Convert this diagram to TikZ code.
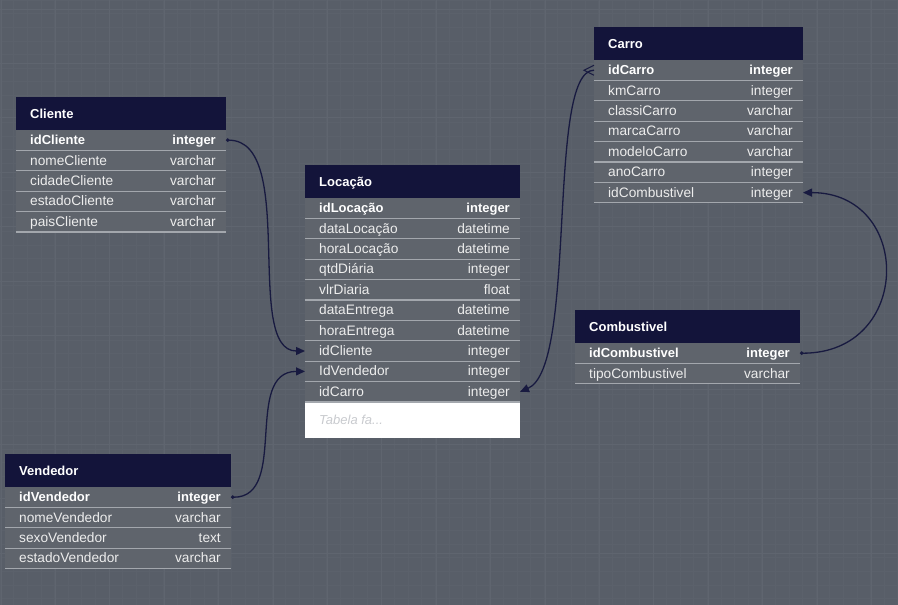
\documentclass[tikz,border=0pt]{standalone}
\usepackage{fontspec}
\setmainfont{Liberation Sans}
\usetikzlibrary{arrows.meta}
\pgfdeclarelayer{fg}
\pgfsetlayers{main,fg}
\definecolor{bgc}{HTML}{585E68}
\definecolor{gridmin}{HTML}{5B616B}
\definecolor{gridmaj}{HTML}{5F656F}
\definecolor{rowfill}{HTML}{5F646C}
\definecolor{rowline}{HTML}{A3A7AD}
\definecolor{headfill}{HTML}{13143A}
\definecolor{rowtext}{HTML}{EDEDED}
\definecolor{linkc}{HTML}{181A40}
\definecolor{hint}{HTML}{C9CBCF}
\tikzset{
 headbox/.style={fill=headfill, draw=none, minimum height=33pt, anchor=north west, inner sep=0pt, outer sep=0pt},
 rowbox/.style={fill=rowfill, draw=none, minimum height=20.4pt, anchor=north west, inner sep=0pt, outer sep=0pt},
 headtext/.style={anchor=west, text=white, font=\fontsize{13}{15}\selectfont\bfseries, inner sep=0pt, text height=11pt, text depth=2pt},
 fieldl/.style={anchor=west, text=rowtext, font=\fontsize{13.7}{16}\selectfont, inner sep=0pt, text height=11pt, text depth=2pt},
 fieldr/.style={anchor=east, text=rowtext, font=\fontsize{13.7}{16}\selectfont, inner sep=0pt, text height=11pt, text depth=2pt},
 keyl/.style={fieldl, text=white, font=\fontsize{13}{15}\selectfont\bfseries},
 keyr/.style={fieldr, text=white, font=\fontsize{13}{15}\selectfont\bfseries},
 sepline/.style={draw=rowline, line width=1.3pt},
 fklink/.style={draw=linkc, line width=1.3pt},
}
\newcommand\ertitle[5]{%
 \node[headbox, minimum width=#4] (#1) at (#2,#3) {};
 \node[headtext] (#1-t) at ([xshift=14pt]#1.west) {#5};}
\newcommand\errow[7]{%
 \node[rowbox, minimum width=#4] (#1) at (#2,#3) {};
 \node[#7l] (#1-l) at ([xshift=14pt]#1.west) {#5};
 \node[#7r] (#1-r) at ([xshift=-10pt]#1.east) {#6};
 \begin{pgfonlayer}{fg}\draw[sepline] (#1.south west) -- (#1.south east);\end{pgfonlayer}}
\begin{document}
\begin{tikzpicture}[x=1pt,y=-1pt]
\useasboundingbox (0,0) rectangle (898,605);
\fill[bgc] (0,0) rectangle (898,605);
\foreach \i in {0,...,66} {\draw[gridmin, line width=0.6pt] (\i*13.6,0) -- (\i*13.6,605);}
\foreach \i in {0,...,45} {\draw[gridmin, line width=0.6pt] (0,\i*13.6) -- (898,\i*13.6);}
\foreach \i in {0,...,16} {\draw[gridmaj, line width=0.8pt] (1+\i*54.4,0) -- (1+\i*54.4,605);}
\foreach \i in {0,...,11} {\draw[gridmaj, line width=0.8pt] (0,9+\i*54.4) -- (898,9+\i*54.4);}

% Cliente
\ertitle{cli}{16}{97}{210}{Cliente}
\errow{cli1}{16}{130}{210}{idCliente}{integer}{key}
\errow{cli2}{16}{150.4}{210}{nomeCliente}{varchar}{field}
\errow{cli3}{16}{170.8}{210}{cidadeCliente}{varchar}{field}
\errow{cli4}{16}{191.2}{210}{estadoCliente}{varchar}{field}
\errow{cli5}{16}{211.6}{210}{paisCliente}{varchar}{field}

% Locacao
\ertitle{loc}{305}{165}{215}{Locação}
\errow{loc1}{305}{198}{215}{idLocação}{integer}{key}
\errow{loc2}{305}{218.4}{215}{dataLocação}{datetime}{field}
\errow{loc3}{305}{238.8}{215}{horaLocação}{datetime}{field}
\errow{loc4}{305}{259.2}{215}{qtdDiária}{integer}{field}
\errow{loc5}{305}{279.6}{215}{vlrDiaria}{float}{field}
\errow{loc6}{305}{300}{215}{dataEntrega}{datetime}{field}
\errow{loc7}{305}{320.4}{215}{horaEntrega}{datetime}{field}
\errow{loc8}{305}{340.8}{215}{idCliente}{integer}{field}
\errow{loc9}{305}{361.2}{215}{IdVendedor}{integer}{field}
\errow{loc10}{305}{381.6}{215}{idCarro}{integer}{field}
\node[fill=white, minimum width=215pt, minimum height=35pt, anchor=north west, inner sep=0pt] (locnote) at (305,402.6) {};
\node[anchor=west, text=hint, font=\fontsize{13}{15}\selectfont\itshape, inner sep=0pt] (lochint) at ([xshift=14pt]locnote.west) {Tabela fa...};

% Carro
\ertitle{car}{594}{27}{209}{Carro}
\errow{car1}{594}{60}{209}{idCarro}{integer}{key}
\errow{car2}{594}{80.4}{209}{kmCarro}{integer}{field}
\errow{car3}{594}{100.8}{209}{classiCarro}{varchar}{field}
\errow{car4}{594}{121.2}{209}{marcaCarro}{varchar}{field}
\errow{car5}{594}{141.6}{209}{modeloCarro}{varchar}{field}
\errow{car6}{594}{162}{209}{anoCarro}{integer}{field}
\errow{car7}{594}{182.4}{209}{idCombustivel}{integer}{field}

% Combustivel
\ertitle{com}{575}{310}{225}{Combustivel}
\errow{com1}{575}{343}{225}{idCombustivel}{integer}{key}
\errow{com2}{575}{363.4}{225}{tipoCombustivel}{varchar}{field}

% Vendedor
\ertitle{ven}{5}{454}{226}{Vendedor}
\errow{ven1}{5}{487}{226}{idVendedor}{integer}{key}
\errow{ven2}{5}{507.4}{226}{nomeVendedor}{varchar}{field}
\errow{ven3}{5}{527.8}{226}{sexoVendedor}{text}{field}
\errow{ven4}{5}{548.2}{226}{estadoVendedor}{varchar}{field}

% connectors
\draw[fklink, {Circle[length=3.5pt]}-{Triangle[length=9pt,width=8pt]}]
  (cli1.east) .. controls +(72,0) and +(-62,0) .. (loc8.west);
\draw[fklink, {Circle[length=3.5pt]}-{Triangle[length=9pt,width=8pt]}]
  (ven1.east) .. controls +(58,0) and +(-62,0) .. (loc9.west);
\draw[fklink, -{Triangle[length=9pt,width=8pt]}]
  (car1.west) .. controls +(-48,0) and +(58,-25) .. (loc10.east);
\coordinate (cfapex) at ([xshift=-10pt]car1.west);
\draw[fklink, line width=1pt] ([yshift=-5pt]car1.west) -- (cfapex) -- ([yshift=5pt]car1.west);
\draw[fklink, {Circle[length=3.5pt]}-{Triangle[length=9pt,width=8pt]}]
  (com1.east) .. controls +(113,0) and +(110,0) .. (car7.east);
\end{tikzpicture}
\end{document}
